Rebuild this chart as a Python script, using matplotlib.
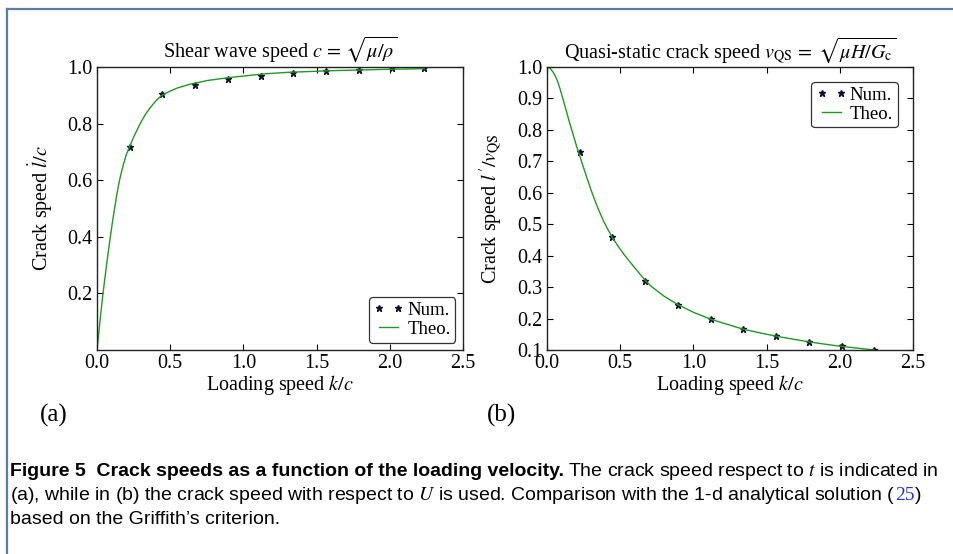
import matplotlib
matplotlib.use("Agg")
import matplotlib.pyplot as plt
from matplotlib.lines import Line2D

plt.rcParams['font.family'] = ['Liberation Serif', 'DejaVu Serif']
plt.rcParams['mathtext.fontset'] = 'stix'

# ---- data ----
k_num = [0.224, 0.447, 0.671, 0.894, 1.118, 1.342, 1.565, 1.789, 2.012, 2.236]
speed_a_num = [0.719, 0.905, 0.937, 0.957, 0.968, 0.979, 0.985, 0.990, 0.995, 0.996]
speed_b_num = [0.730, 0.460, 0.320, 0.244, 0.198, 0.166, 0.144, 0.125, 0.113, 0.101]

k_theo_a = [0.0, 0.01, 0.02, 0.03, 0.041, 0.053, 0.065, 0.078, 0.091, 0.105, 0.12, 0.135,
            0.15, 0.165, 0.18, 0.2, 0.221, 0.25, 0.292, 0.33, 0.36, 0.4, 0.44, 0.5, 0.55,
            0.633, 0.671, 0.75, 0.894, 1.0, 1.15, 1.3, 1.6, 2.0, 2.236]
speed_a_theo = [0.0, 0.05, 0.10, 0.148, 0.20, 0.25, 0.30, 0.35, 0.40, 0.45, 0.50, 0.548,
                0.59, 0.625, 0.655, 0.69, 0.717, 0.752, 0.797, 0.832, 0.854, 0.879, 0.899,
                0.915, 0.926, 0.939, 0.943, 0.952, 0.962, 0.968, 0.976, 0.981, 0.987,
                0.992, 0.994]

k_theo_b = [0.0, 0.02, 0.04, 0.06, 0.075, 0.09, 0.105, 0.12, 0.135, 0.15, 0.166, 0.18,
            0.195, 0.21, 0.224, 0.241, 0.27, 0.303, 0.34, 0.383, 0.415, 0.446, 0.49, 0.531,
            0.6, 0.67, 0.713, 0.8, 0.895, 1.0, 1.118, 1.2, 1.342, 1.5, 1.6, 1.8, 2.0, 2.236]
speed_b_theo = [1.0, 0.996, 0.985, 0.968, 0.951, 0.929, 0.905, 0.88, 0.855, 0.83, 0.805,
                0.783, 0.759, 0.736, 0.717, 0.692, 0.651, 0.606, 0.560, 0.513, 0.484, 0.458,
                0.427, 0.401, 0.361, 0.322, 0.302, 0.271, 0.244, 0.22, 0.198, 0.186,
                0.166, 0.150, 0.141, 0.125, 0.112, 0.100]

yticks_a = [0.2, 0.4, 0.6, 0.8, 1.0]
yticks_b = [0.1, 0.2, 0.3, 0.4, 0.5, 0.6, 0.7, 0.8, 0.9, 1.0]
xticks = [0.0, 0.5, 1.0, 1.5, 2.0, 2.5]

green = '#1f9a1f'
fs = 14.5
lfs = 13.5

fig = plt.figure(figsize=(9.54, 5.54), dpi=100)

axA = fig.add_axes([97/954, 1-350/554, 366/954, 283/554])
axB = fig.add_axes([547/954, 1-350/554, 366/954, 283/554])

def style(ax):
    ax.tick_params(direction='in', top=True, right=True, labelsize=fs, length=4, width=0.8, pad=3)
    for s in ax.spines.values():
        s.set_linewidth(1.0)
        s.set_color('#222222')

# (a)
axA.plot(k_num, speed_a_num, linestyle='none', marker='*', color='#101030', markersize=5, label='Num.')
axA.plot(k_theo_a, speed_a_theo, color=green, lw=1.0, label='Theo.')
axA.set_xlim(0, 2.5)
axA.set_ylim(0, 1.0)
axA.set_xticks(xticks)
axA.set_yticks(yticks_a)
axA.set_xticklabels([f'{v:.1f}' for v in xticks])
axA.set_yticklabels([f'{v:.1f}' for v in yticks_a])
axA.set_xlabel(r'Loading speed $k/c$', fontsize=fs, labelpad=0)
axA.set_ylabel(r'Crack speed $\dot{l}/c$', fontsize=fs)
axA.yaxis.set_label_coords(-0.115, 0.5)
axA.set_title(r'Shear wave speed $c\,=\,\sqrt{\mu/\rho}$', fontsize=fs, pad=7)
style(axA)
axA.legend(loc='lower right', numpoints=2, fontsize=lfs, frameon=True, edgecolor='black',
           fancybox=True, handlelength=1.6, handletextpad=0.2, borderpad=0.25,
           labelspacing=0.1, borderaxespad=0.4).get_frame().set_linewidth(0.9)

# (b)
axB.plot(k_num, speed_b_num, linestyle='none', marker='*', color='#101030', markersize=5, label='Num.')
axB.plot(k_theo_b, speed_b_theo, color=green, lw=1.0, label='Theo.')
axB.set_xlim(0, 2.5)
axB.set_ylim(0.1, 1.0)
axB.set_xticks(xticks)
axB.set_yticks(yticks_b)
axB.set_xticklabels([f'{v:.1f}' for v in xticks])
axB.set_yticklabels([f'{v:.1f}' for v in yticks_b])
axB.set_xlabel(r'Loading speed $k/c$', fontsize=fs, labelpad=0)
axB.set_ylabel(r"Crack speed $l'/v_{\rm QS}$", fontsize=fs)
axB.yaxis.set_label_coords(-0.115, 0.5)
axB.set_title(r'Quasi-static crack speed $v_{\rm QS}\,=\;\sqrt{\mu H/G_{\rm c}}$', fontsize=fs, pad=7)
style(axB)
axB.legend(loc='upper right', numpoints=2, fontsize=lfs, frameon=True, edgecolor='black',
           fancybox=True, handlelength=1.6, handletextpad=0.2, borderpad=0.25,
           labelspacing=0.1, borderaxespad=0.8).get_frame().set_linewidth(0.9)

# panel letters
fig.text(40/954, 1-415/554, '(a)', fontsize=18, va='center', ha='left')
fig.text(487/954, 1-415/554, '(b)', fontsize=18, va='center', ha='left')

# border frame
border_c = '#5a7ea6'
fig.add_artist(Line2D([7.5/954, 7.5/954], [0, 1-8.5/554], color=border_c, lw=1.6, transform=fig.transFigure))
fig.add_artist(Line2D([7.5/954, 1], [1-8.5/554, 1-8.5/554], color=border_c, lw=1.6, transform=fig.transFigure))

# caption
cap_fam = ['Liberation Sans', 'DejaVu Sans']
cfs = 14
renderer = fig.canvas.get_renderer()
x0 = 10/954
y1 = 1-471/554
t1 = fig.text(x0, y1, 'Figure 5  Crack speeds as a function of the loading velocity.',
              fontsize=cfs, fontweight='bold', family=cap_fam, va='center', ha='left')
bb = t1.get_window_extent(renderer)
fig.text(bb.x1/954 + 4/954, y1, r'The crack speed respect to $t$ is indicated in',
         fontsize=cfs, family=cap_fam, va='center', ha='left')
y2 = 1-495/554
t2 = fig.text(x0, y2, r'(a), while in (b) the crack speed with respect to $U$ is used. Comparison with the 1-d analytical solution (',
              fontsize=cfs, family=cap_fam, va='center', ha='left')
bb2 = t2.get_window_extent(renderer)
t3 = fig.text(bb2.x1/954, y2, '25', fontsize=cfs, family=['Liberation Serif'], color='#2233dd', va='center', ha='left')
bb3 = t3.get_window_extent(renderer)
fig.text(bb3.x1/954, y2, ')', fontsize=cfs, family=cap_fam, va='center', ha='left')
y3 = 1-519/554
fig.text(x0, y3, "based on the Griffith\u2019s criterion.", fontsize=cfs, family=cap_fam, va='center', ha='left')

fig.savefig('out.png', dpi=100)
